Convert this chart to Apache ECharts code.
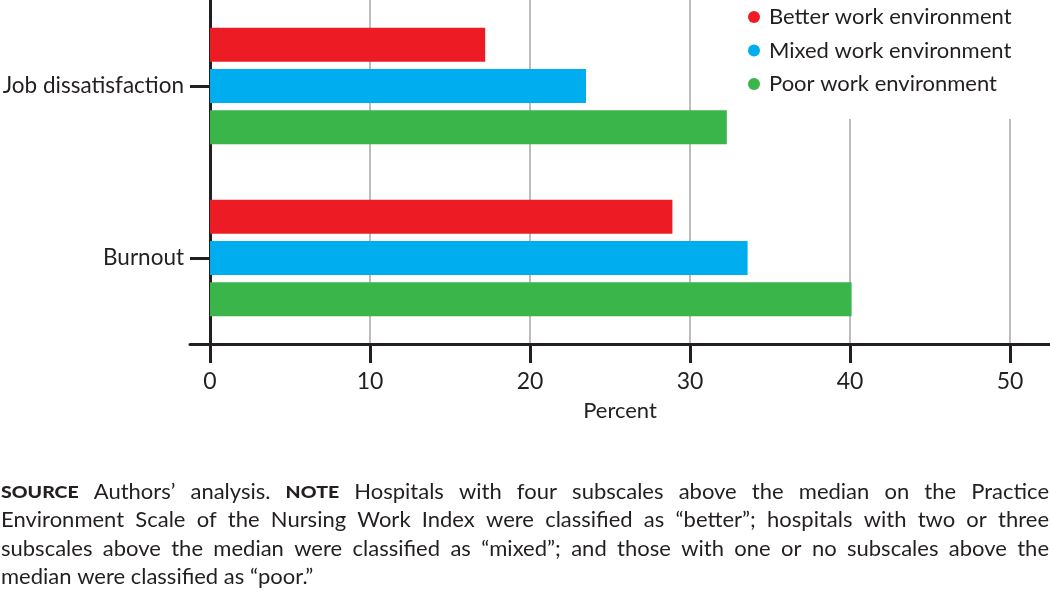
<!DOCTYPE html>
<html>
<head>
<meta charset="utf-8">
<script src="https://cdn.jsdelivr.net/npm/echarts@6/dist/echarts.min.js"></script>
<style>
html,body{margin:0;padding:0;background:#fff;}
#chart{width:1050px;height:596px;}
</style>
</head>
<body>
<div id="chart"></div>
<script>
// ---- data ----
const categories = ['Job dissatisfaction', 'Burnout'];
const seriesNames = ['Better work environment', 'Mixed work environment', 'Poor work environment'];
const betterValues = [17.2, 28.9];
const mixedValues = [23.5, 33.6];
const poorValues = [32.3, 40.1];
const xTickValues = [0, 10, 20, 30, 40, 50];
const axisName = 'Percent';
const footLines = [
  '*SOURCE* Authors’ analysis. *NOTE* Hospitals with four subscales above the median on the Practice',
  'Environment Scale of the Nursing Work Index were classified as “better”; hospitals with two or three',
  'subscales above the median were classified as “mixed”; and those with one or no subscales above the',
  'median were classified as “poor.”'
];

// ---- style ----
const FONT = 'Lato';
const INK = '#231F20';
const colors = ['#ED1C24', '#00AEEF', '#39B54A'];

const chart = echarts.init(document.getElementById('chart'), null, {renderer: 'canvas'});

// footnote layout (justified lines)
const measureCtx = document.createElement('canvas').getContext('2d');
function measure(text, font) { measureCtx.font = font; return measureCtx.measureText(text).width; }
const normFont = `400 22px ${FONT}`;
const boldFont = `900 16px ${FONT}`;
const boldStretch = 1.22;
const footEls = [];
const lineY0 = 492, lineStep = 28.4, leftX = 1, rightX = 1049;
footLines.forEach((line, li) => {
  const words = line.split(' ').map(w => {
    const bold = /^\*.*\*$/.test(w);
    const t = bold ? w.slice(1, -1) : w;
    return {t, bold, w: bold ? measure(t, boldFont) * boldStretch : measure(t, normFont)};
  });
  const total = words.reduce((s, w) => s + w.w, 0);
  const justify = li < footLines.length - 1;
  const gap = justify ? (rightX - leftX - total) / (words.length - 1) : measure(' ', normFont);
  let x = leftX;
  words.forEach(w => {
    footEls.push({
      type: 'text', x: x, y: lineY0 + li * lineStep + (w.bold ? 1 : 0),
      scaleX: w.bold ? boldStretch : 1,
      style: {
        text: w.t, x: 0, y: 0, verticalAlign: 'middle', align: 'left',
        fill: INK,
        font: w.bold ? boldFont : normFont
      }
    });
    x += w.w + gap;
  });
});

const barCommon = {type: 'bar', barWidth: 34, barGap: '21%', barCategoryGap: '10%'};

chart.setOption({
  animation: false,
  backgroundColor: '#fff',
  textStyle: {fontFamily: FONT, color: INK},
  grid: {left: 190, right: 0, top: 0, height: 344, containLabel: false, outerBoundsMode: 'none'},
  legend: {
    orient: 'vertical', left: 740, top: 0,
    padding: [6, 38, 24, 8],
    backgroundColor: '#fff',
    icon: 'circle', itemWidth: 12, itemHeight: 12, itemGap: 11.5,
    textStyle: {fontSize: 22, color: INK, fontFamily: FONT, lineHeight: 22, padding: [0, 0, 0, 4]},
    data: seriesNames
  },
  xAxis: {
    type: 'value', min: -1.25, max: 52.5,
    name: axisName, nameLocation: 'middle', nameGap: 56,
    nameTextStyle: {fontSize: 22, color: INK, fontFamily: FONT},
    axisLine: {show: true, lineStyle: {color: INK, width: 3}},
    axisTick: {show: true, customValues: xTickValues, length: 19, lineStyle: {color: INK, width: 3}},
    axisLabel: {customValues: xTickValues, margin: 26, fontSize: 23, color: INK, fontFamily: FONT},
    splitLine: {show: true, lineStyle: {color: '#BDBDBD', width: 2}}
  },
  yAxis: {
    type: 'category', inverse: true, data: categories,
    axisLine: {show: true, onZero: true, lineStyle: {color: INK, width: 3}},
    axisTick: {show: true, alignWithLabel: true, length: 20, lineStyle: {color: INK, width: 3}},
    axisLabel: {margin: 6, fontSize: 22.5, color: INK, fontFamily: FONT},
    splitLine: {show: false}
  },
  series: [
    Object.assign({}, barCommon, {name: seriesNames[0], data: betterValues, itemStyle: {color: colors[0]}}),
    Object.assign({}, barCommon, {name: seriesNames[1], data: mixedValues, itemStyle: {color: colors[1]}}),
    Object.assign({}, barCommon, {name: seriesNames[2], data: poorValues, itemStyle: {color: colors[2]}})
  ],
  graphic: footEls
});
</script>
</body>
</html>
